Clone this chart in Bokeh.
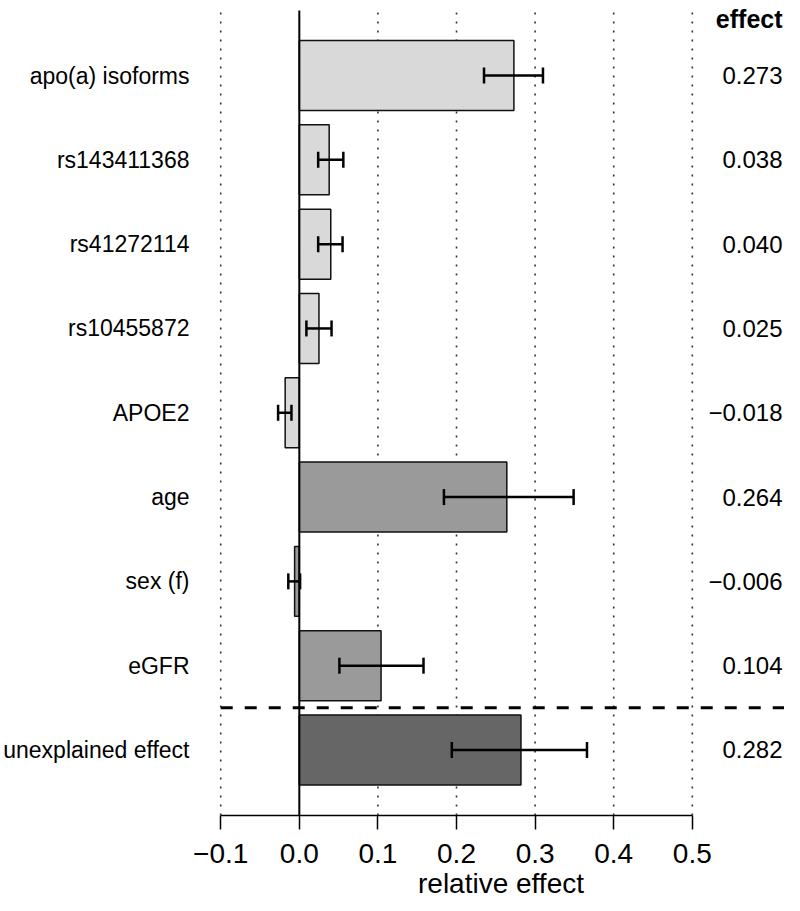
from bokeh.plotting import figure
from bokeh.models import Range1d, FixedTicker, ColumnDataSource, Whisker, TeeHead
from bokeh.core.properties import value
from bokeh.embed import file_html
from bokeh.resources import INLINE

# ---- data ----
categories = ["apo(a) isoforms", "rs143411368", "rs41272114", "rs10455872",
              "APOE2", "age", "sex (f)", "eGFR", "unexplained effect"]
effects = [0.273, 0.038, 0.040, 0.025, -0.018, 0.264, -0.006, 0.104, 0.282]
ci_low = [0.235, 0.024, 0.024, 0.009, -0.027, 0.184, -0.014, 0.051, 0.194]
ci_high = [0.310, 0.056, 0.055, 0.041, -0.010, 0.349, 0.001, 0.158, 0.366]
groups = ["genetic", "genetic", "genetic", "genetic", "genetic",
          "clinical", "clinical", "clinical", "unexplained"]
x_ticks = [-0.1, 0.0, 0.1, 0.2, 0.3, 0.4, 0.5]
x_tick_labels = ["\u22120.1", "0.0", "0.1", "0.2", "0.3", "0.4", "0.5"]
header = "effect"
x_title = "relative effect"

group_colors = {"genetic": "#d9d9d9", "clinical": "#9a9a9a", "unexplained": "#666666"}
FONT = "Liberation Sans"

n = len(categories)
y_pos = [n - 1 - i for i in range(n)]
eff_labels = [f"{v:.3f}".replace("-", "\u2212") for v in effects]

src = ColumnDataSource(dict(
    y=y_pos, cat=categories, eff=effects, lo=ci_low, hi=ci_high,
    color=[group_colors[g] for g in groups], lab=eff_labels,
))

x_start, x_end = -0.1041, 0.6173
y_start, y_end = -0.777, 8.890
line_top = 8.771

p = figure(width=784, height=909, output_backend="svg", toolbar_location=None,
           x_range=Range1d(x_start, x_end), y_range=Range1d(y_start, y_end),
           min_border_left=209, min_border_right=0, min_border_top=0,
           min_border_bottom=94)
p.outline_line_color = None
p.xgrid.visible = False
p.ygrid.visible = False
p.background_fill_color = "white"

# dotted reference lines
grid_x = [t for t in x_ticks if t != 0]
p.segment(x0=grid_x, y0=[y_start] * len(grid_x), x1=grid_x, y1=[line_top] * len(grid_x),
          line_color="#333333", line_width=1.6, line_dash="2 7")

# bars
p.hbar(y="y", left=0, right="eff", height=0.83, fill_color="color",
       line_color="#111111", line_width=1.5, source=src)

# zero line
p.segment(x0=[0], y0=[y_start], x1=[0], y1=[line_top], line_color="black", line_width=2)

# error bars
w = Whisker(base="y", lower="lo", upper="hi", dimension="width", source=src,
            line_width=2.5, line_color="black", level="overlay",
            upper_head=TeeHead(size=16, line_width=2.5, line_color="black"),
            lower_head=TeeHead(size=16, line_width=2.5, line_color="black"))
p.add_layout(w)

# dashed separator before the unexplained effect
sep_y = (y_pos[-2] + y_pos[-1]) / 2
p.segment(x0=[x_ticks[0]], y0=[sep_y], x1=[x_end], y1=[sep_y],
          line_color="black", line_width=3, line_dash="12 12")

# effect values column
x_txt = 0.6148
p.text(x=x_txt, y="y", text="lab", source=src, text_align="right",
       text_baseline="middle", text_font=value(FONT), text_font_size="24px",
       text_color="black")
p.text(x=[x_txt], y=[8.676], text=[header], text_align="right",
       text_baseline="alphabetic", text_font=value(FONT), text_font_size="25px",
       text_font_style="bold", text_color="black")

# x axis
xa = p.xaxis[0]
xa.bounds = (x_ticks[0], x_ticks[-1])
xa.ticker = FixedTicker(ticks=x_ticks)
xa.major_label_overrides = {t: l for t, l in zip(x_ticks, x_tick_labels)}
xa.major_label_text_font = FONT
xa.major_label_text_font_size = "28px"
xa.major_label_text_color = "black"
xa.major_tick_out = 14
xa.major_tick_in = 0
xa.minor_tick_line_color = None
xa.axis_line_width = 1.5
xa.major_tick_line_width = 1.5
xa.axis_line_color = "black"
xa.major_tick_line_color = "black"
xa.major_label_standoff = 14
xa.axis_label = x_title
xa.axis_label_text_font = FONT
xa.axis_label_text_font_size = "28px"
xa.axis_label_text_font_style = "normal"
xa.axis_label_text_color = "black"
xa.axis_label_standoff = 2

# y axis = category labels
ya = p.yaxis[0]
ya.ticker = FixedTicker(ticks=y_pos)
ya.major_label_overrides = {y: c for y, c in zip(y_pos, categories)}
ya.major_label_text_font = FONT
ya.major_label_text_font_size = "23px"
ya.major_label_text_color = "black"
ya.axis_line_color = None
ya.major_tick_line_color = None
ya.minor_tick_line_color = None
ya.major_label_standoff = 22

open("out.html", "w").write(file_html(p, INLINE))
